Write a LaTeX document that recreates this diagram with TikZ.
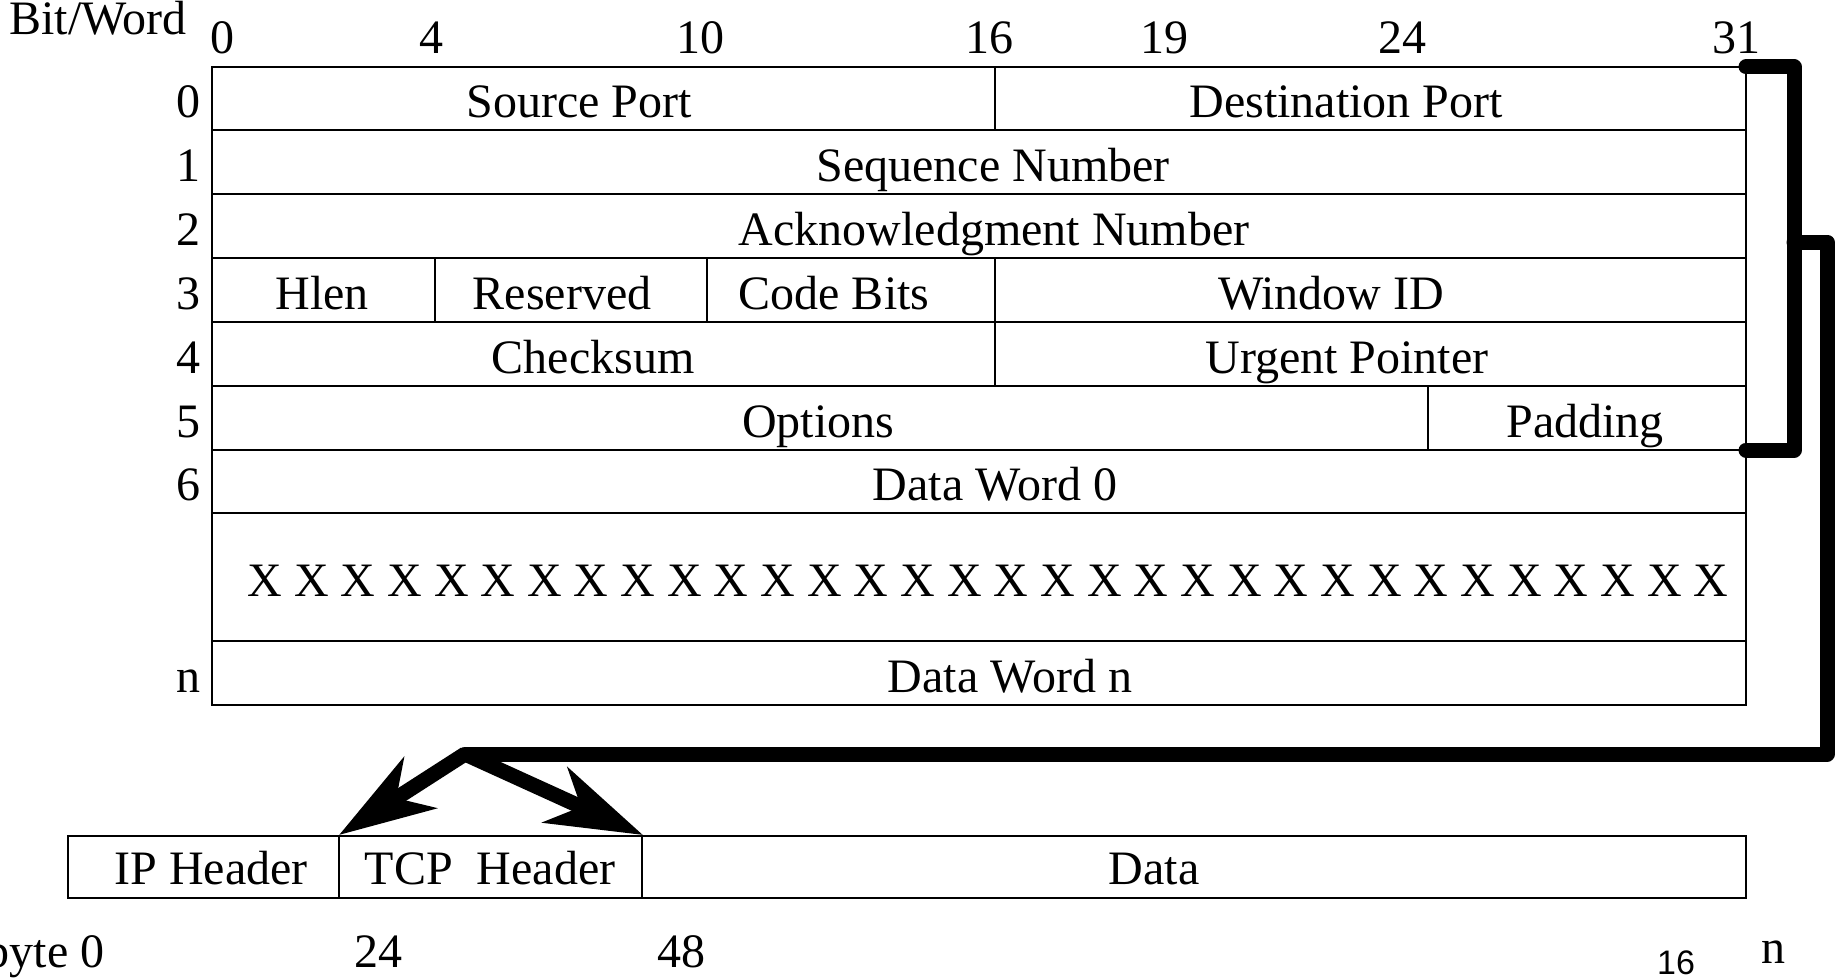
\documentclass[tikz,border=0pt]{standalone}
\usepackage{fontspec}
\setmainfont{Liberation Serif}
\newfontfamily\sansf{Liberation Sans}
\usetikzlibrary{arrows.meta}
\tikzset{
  tbl/.style={line width=1.3pt},
  lbl/.style={inner sep=0pt, anchor=base, font=\fontsize{24}{28}\selectfont},
  rowlbl/.style={inner sep=0pt, anchor=base east, font=\fontsize{24}{28}\selectfont},
  conn/.style={line width=7.5pt, line join=round, line cap=round},
  bigarrow/.style={conn, line cap=butt, -{Stealth[length=48pt, width=30pt, inset=14pt]}}
}
\begin{document}
\begin{tikzpicture}[x=0.5pt,y=-0.5pt]
\useasboundingbox (0,0) rectangle (1835,979);
% header labels
\node[lbl, anchor=base west] (bw) at (9,35) {Bit/Word};
\foreach \t/\x [count=\i] in {0/222,4/431,10/700,16/989,19/1164,24/1402,31/1736}
  \node[lbl] (bit\i) at (\x,54) {\t};
% table frame
\draw[tbl] (212,67) rectangle (1746,705);
\foreach \y in {130,194,258,322,386,450,513,641}
  \draw[tbl] (212,\y) -- (1746,\y);
\draw[tbl] (995,67) -- (995,130);
\draw[tbl] (435,258) -- (435,322);
\draw[tbl] (707,258) -- (707,322);
\draw[tbl] (995,258) -- (995,386);
\draw[tbl] (1428,386) -- (1428,450);
% row labels
\foreach \t/\y [count=\i] in {0/117.5,1/181,2/245,3/309,4/373,5/437,6/500.5,n/692}
  \node[rowlbl] (row\i) at (201,\y) {\t};
% fields
\node[lbl] (sport) at (579,117.5) {Source Port};
\node[lbl] (dport) at (1346,117.5) {Destination Port};
\node[lbl] (seq) at (993,181) {Sequence Number};
\node[lbl] (ack) at (994,245) {Acknowledgment Number};
\node[lbl] (hlen) at (322,309) {Hlen};
\node[lbl] (res) at (562,309) {Reserved};
\node[lbl] (code) at (834,309) {Code Bits};
\node[lbl] (win) at (1331,309) {Window ID};
\node[lbl] (chk) at (593,373) {Checksum};
\node[lbl] (urg) at (1347,373) {Urgent Pointer};
\node[lbl] (opt) at (818,437) {Options};
\node[lbl] (pad) at (1585,437) {Padding};
\node[lbl] (dw0) at (995,500.5) {Data Word 0};
\node[lbl] (xs) at (988,596) {X X X X X X X X X X X X X X X X X X X X X X X X X X X X X X X X};
\node[lbl] (dwn) at (1010,692) {Data Word n};
% bottom packet
\draw[tbl] (68,836) rectangle (1746,898);
\draw[tbl] (339,836) -- (339,898);
\draw[tbl] (642,836) -- (642,898);
\node[lbl] (iph) at (211,884) {IP Header};
\node[lbl] (tcph) at (490,884) {TCP\ \ Header};
\node[lbl] (data) at (1154,884) {Data};
\node[lbl, anchor=base east] (b0) at (105,967) {byte 0};
\node[lbl] (b24) at (378,967) {24};
\node[lbl] (b48) at (681,967) {48};
\node[inner sep=0pt, anchor=base, font=\sansf\fontsize{17}{19}\selectfont] (pg) at (1676,974) {16};
\node[lbl] (bn) at (1773,963) {n};
% connectors
\coordinate (tr) at (1746,67);
\coordinate (br) at (1746,450);
\coordinate (bk1) at (1794,67);
\coordinate (bk2) at (1794,450);
\coordinate (mid) at (1794,242);
\coordinate (c1) at (1827,242);
\coordinate (c2) at (1827,754);
\coordinate (apex) at (465,754);
\coordinate (tipL) at (339,835);
\coordinate (tipR) at (643,835);
\draw[conn] (tr) -- (bk1) -- (bk2) -- (br);
\draw[conn] (mid) -- (c1) -- (c2) -- (apex);
\draw[bigarrow] (apex) -- (tipL);
\draw[bigarrow] (apex) -- (tipR);
\end{tikzpicture}
\end{document}
